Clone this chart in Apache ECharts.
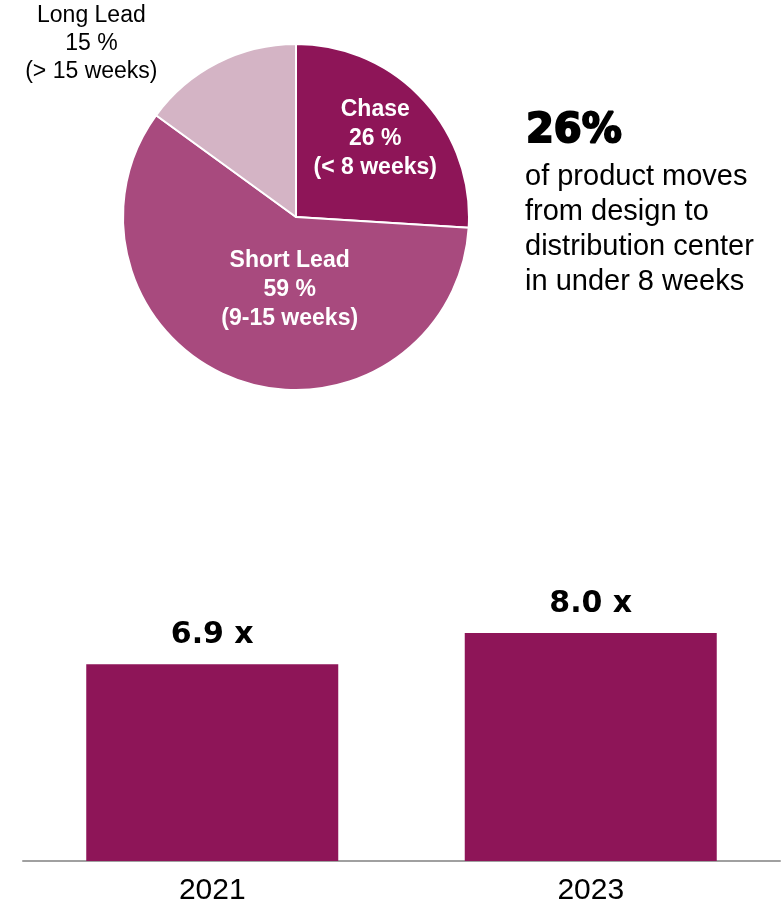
<!DOCTYPE html>
<html>
<head>
<meta charset="utf-8">
<script src="https://cdn.jsdelivr.net/npm/echarts@6/dist/echarts.min.js"></script>
<style>
  html, body { margin: 0; padding: 0; background: #fff; }
  #chart { width: 782px; height: 914px; }
</style>
</head>
<body>
<div id="chart"></div>
<script>
// pie data
const segNames = ['Chase', 'Short Lead', 'Long Lead'];
const segShares = [26, 59, 15];
const segRanges = ['(< 8 weeks)', '(9-15 weeks)', '(> 15 weeks)'];

// bar data
const years = ['2021', '2023'];
const ratios = [6.9, 8.0];

const headline = '26%';
const blurb = ['of product moves', 'from design to', 'distribution center', 'in under 8 weeks'];

const segColors = ['#8E1558', '#A84A7E', '#D4B4C5'];
// label nudges from the default inside anchor
const labelShift = [[14, -17], [24, -12], [-164, -94]];

const chart = echarts.init(document.getElementById('chart'));

const pieData = segNames.map((n, i) => ({
  name: n,
  value: segShares[i],
  itemStyle: { color: segColors[i] },
  label: i === 2
    ? { color: '#000', fontWeight: 'normal', lineHeight: 28 }
    : {}
}));

const option = {
  backgroundColor: '#ffffff',
  animation: false,
  graphic: [
    {
      type: 'text',
      left: 525,
      top: 111,
      style: {
        text: headline,
        font: 'bold 40px "DejaVu Sans"',
        fill: '#000',
        stroke: '#000',
        lineWidth: 2
      }
    },
    {
      type: 'text',
      left: 525,
      top: 159,
      style: {
        text: blurb.join('\n'),
        font: '29px "Liberation Sans"',
        lineHeight: 35,
        fill: '#000'
      }
    }
  ],
  grid: { left: 23, right: 2, top: 576, bottom: 53 },
  xAxis: {
    type: 'category',
    data: years,
    axisTick: { show: false },
    axisLine: { lineStyle: { color: '#A0A0A0', width: 2 } },
    axisLabel: {
      color: '#000',
      fontFamily: 'Liberation Sans',
      fontSize: 30,
      margin: 15
    }
  },
  yAxis: {
    type: 'value',
    min: 0,
    max: 10,
    show: false,
    splitLine: { show: false }
  },
  series: [
    {
      type: 'pie',
      center: [296, 217],
      radius: [0, 173],
      startAngle: 90,
      clockwise: true,
      data: pieData,
      itemStyle: { borderColor: '#fff', borderWidth: 2 },
      label: {
        show: true,
        position: 'inside',
        color: '#fff',
        fontFamily: 'Liberation Sans',
        fontWeight: 'bold',
        fontSize: 23,
        lineHeight: 29,
        formatter: (p) => `${p.name}\n${p.value} %\n${segRanges[p.dataIndex]}`
      },
      labelLine: { show: false },
      labelLayout: (p) => ({ dx: labelShift[p.dataIndex][0], dy: labelShift[p.dataIndex][1] }),
      emphasis: { disabled: true }
    },
    {
      type: 'bar',
      data: ratios,
      barWidth: 252,
      itemStyle: { color: '#8E1558' },
      label: {
        show: true,
        position: 'top',
        distance: 14,
        color: '#000',
        fontFamily: 'DejaVu Sans',
        fontWeight: 'bold',
        fontSize: 30,
        formatter: (p) => p.value.toFixed(1) + ' x'
      },
      emphasis: { disabled: true }
    }
  ]
};

chart.setOption(option);
</script>
</body>
</html>
